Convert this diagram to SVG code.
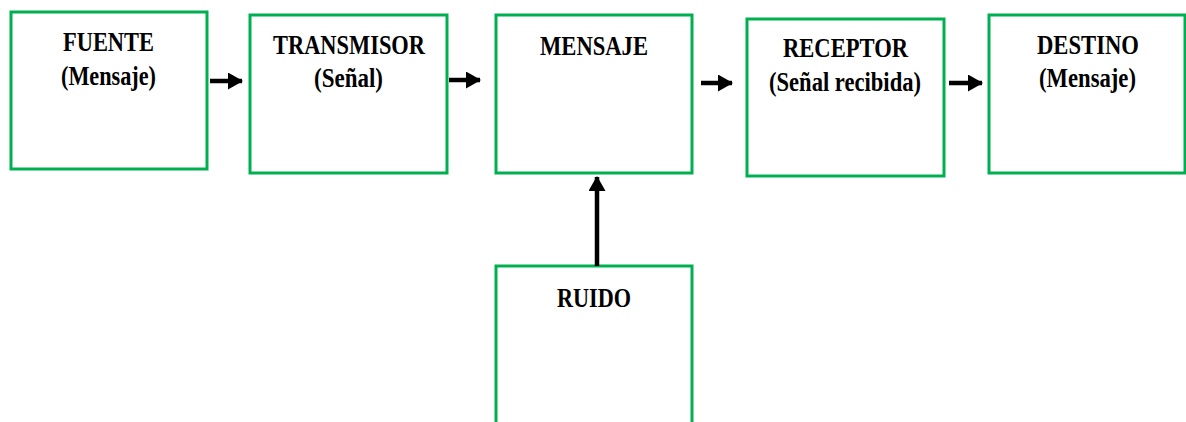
<svg xmlns="http://www.w3.org/2000/svg" width="1186" height="422" viewBox="0 0 1186 422">
<style>
.box{fill:#fff;stroke:#00B050;stroke-width:3}
.t{font-family:"Liberation Serif","Times New Roman",serif;font-weight:bold;font-size:27px;fill:#000;text-anchor:middle}
.c{stroke:#000;stroke-width:4.5;fill:none}
</style>
<defs>
<marker id="ah" markerUnits="userSpaceOnUse" markerWidth="15" markerHeight="17" refX="14" refY="8.5" orient="auto">
<path d="M0,0 L15,8.5 L0,17 Z" fill="#000"/>
</marker>
</defs>
<rect width="1186" height="422" fill="#fff"/>
<g id="fuente">
<rect class="box" x="11" y="12" width="196" height="157"/>
<text class="t" x="108.5" y="51" textLength="91" lengthAdjust="spacingAndGlyphs">FUENTE</text>
<text class="t" x="108.5" y="85" textLength="95" lengthAdjust="spacingAndGlyphs">(Mensaje)</text>
</g>
<g id="transmisor">
<rect class="box" x="250" y="15" width="197" height="158"/>
<text class="t" x="349" y="54" textLength="152" lengthAdjust="spacingAndGlyphs">TRANSMISOR</text>
<text class="t" x="348.5" y="87" textLength="69" lengthAdjust="spacingAndGlyphs">(Señal)</text>
</g>
<g id="mensaje">
<rect class="box" x="496" y="15" width="196" height="158"/>
<text class="t" x="594" y="55" textLength="108" lengthAdjust="spacingAndGlyphs">MENSAJE</text>
</g>
<g id="receptor">
<rect class="box" x="747" y="19" width="197" height="157"/>
<text class="t" x="845.5" y="57" textLength="125" lengthAdjust="spacingAndGlyphs">RECEPTOR</text>
<text class="t" x="845" y="91" textLength="152" lengthAdjust="spacingAndGlyphs">(Señal recibida)</text>
</g>
<g id="destino">
<rect class="box" x="989" y="15" width="196" height="158"/>
<text class="t" x="1088" y="54" textLength="102" lengthAdjust="spacingAndGlyphs">DESTINO</text>
<text class="t" x="1087.5" y="87" textLength="97" lengthAdjust="spacingAndGlyphs">(Mensaje)</text>
</g>
<g id="ruido">
<rect class="box" x="496" y="266" width="196" height="170"/>
<text class="t" x="594" y="307" textLength="74" lengthAdjust="spacingAndGlyphs">RUIDO</text>
</g>
<g id="connectors">
<line class="c" x1="210" y1="81" x2="242" y2="81" marker-end="url(#ah)"/>
<line class="c" x1="449" y1="80" x2="480" y2="80" marker-end="url(#ah)"/>
<line class="c" x1="701" y1="83" x2="732" y2="83" marker-end="url(#ah)"/>
<line class="c" x1="949" y1="83" x2="982" y2="83" marker-end="url(#ah)"/>
<line class="c" x1="597" y1="266" x2="597" y2="177" marker-end="url(#ah)"/>
</g>
</svg>
